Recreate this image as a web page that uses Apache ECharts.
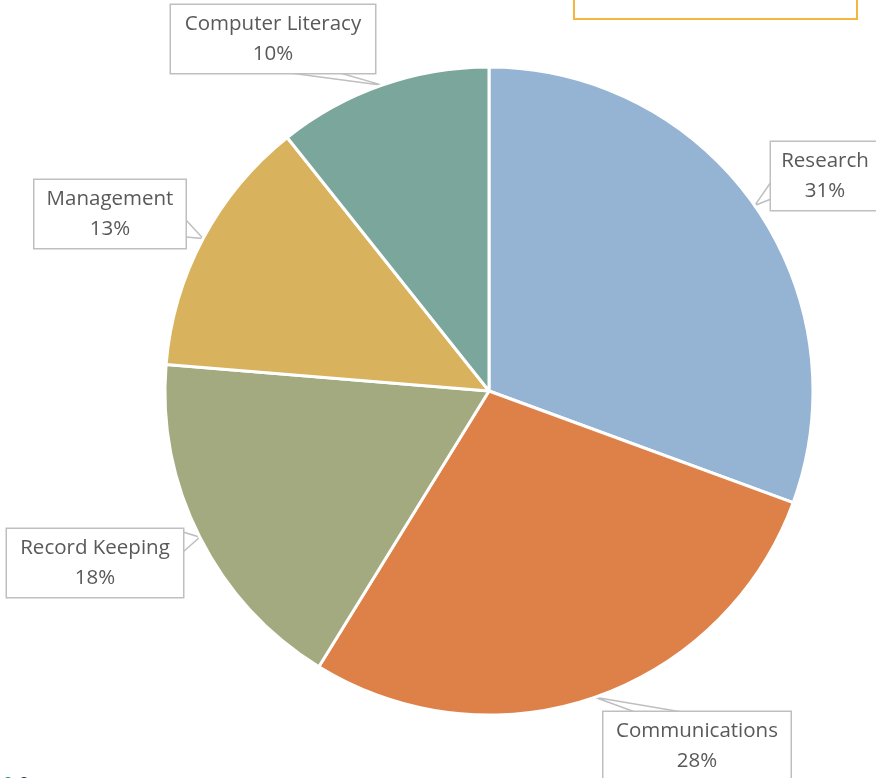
<!DOCTYPE html>
<html>
<head>
<meta charset="utf-8">
<script src="https://cdn.jsdelivr.net/npm/echarts@6/dist/echarts.min.js"></script>
<style>
html,body{margin:0;padding:0;background:#fff;}
#chart{width:876px;height:778px;}
</style>
</head>
<body>
<div id="chart"></div>
<script>
// ---- data ----
const categories = ['Research', 'Communications', 'Record Keeping', 'Management', 'Computer Literacy'];
const values = [30.6, 28.2, 17.5, 13.0, 10.7];
const pctLabels = ['31%', '28%', '18%', '13%', '10%'];
const colors = ['#95B3D3', '#DE8149', '#A4AA7F', '#D8B25D', '#7BA69C'];

// ---- label callout layout (positions / sizes only) ----
const boxes = [
  { cx: 825, cy: 176, w: 108, base: [[771, 182], [771, 199]] },
  { cx: 697, cy: 746, w: 187, base: [[635, 712], [682, 712]] },
  { cx: 95,  cy: 563, w: 176, base: [[173, 529], [183, 552]] },
  { cx: 110, cy: 214, w: 151, base: [[186, 220], [186, 237]] },
  { cx: 273, cy: 39,  w: 204, base: [[290, 73], [340, 73]] }
];

const chart = echarts.init(document.getElementById('chart'));
const seriesData = categories.map((n, i) => ({
  name: n,
  value: values[i],
  itemStyle: { color: colors[i] },
  label: { width: boxes[i].w }
}));

chart.setOption({
  backgroundColor: '#fff',
  animation: false,
  graphic: [
    { type: 'rect', shape: { x: 574, y: -10, width: 283, height: 29 },
      style: { fill: 'none', stroke: '#F6B53C', lineWidth: 2 } },
    { type: 'circle', shape: { cx: 8, cy: 782, r: 5 }, style: { fill: '#2E8B7A' } },
    { type: 'circle', shape: { cx: 24, cy: 782, r: 5 }, style: { fill: '#1F3A5A' } }
  ],
  series: [{
    type: 'pie',
    center: [489, 391],
    radius: 324,
    startAngle: 90,
    clockwise: true,
    avoidLabelOverlap: false,
    itemStyle: { borderColor: '#fff', borderWidth: 3 },
    label: {
      show: true,
      position: 'outside',
      formatter: p => p.name + '\n' + pctLabels[p.dataIndex],
      color: '#595959',
      fontFamily: 'Open Sans',
      fontSize: 20.5,
      lineHeight: 30,
      align: 'center',
      backgroundColor: '#fff',
      borderColor: '#BFBFBF',
      borderWidth: 1.5,
      padding: [4, 0]
    },
    labelLine: {
      show: true,
      length: 10,
      length2: 10,
      lineStyle: { color: '#BFBFBF', width: 1.5 }
    },
    labelLayout: p => {
      const b = boxes[p.dataIndex];
      const out = { x: b.cx, y: b.cy, align: 'center', verticalAlign: 'middle' };
      if (p.labelLinePoints && p.labelLinePoints[0]) {
        out.labelLinePoints = [b.base[0], p.labelLinePoints[0], b.base[1]];
      }
      return out;
    },
    emphasis: { disabled: true },
    data: seriesData
  }]
});
</script>
</body>
</html>
